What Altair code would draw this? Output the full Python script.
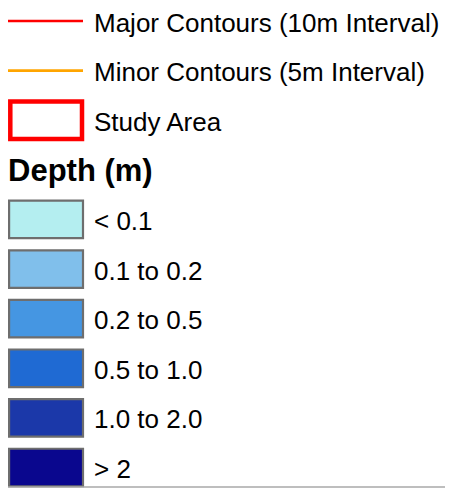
import altair as alt
import pandas as pd

# ---- legend content ----
line_labels = ["Major Contours (10m Interval)", "Minor Contours (5m Interval)"]
line_colors = ["#FF0000", "#FFA500"]
area_labels = ["Study Area"]
area_colors = ["#FF0000"]
depth_title = ["Depth (m)"]
depth_labels = ["< 0.1", "0.1 to 0.2", "0.2 to 0.5", "0.5 to 1.0", "1.0 to 2.0", "> 2"]
depth_colors = ["#B4EEF0", "#80BFEB", "#4596E2", "#1F6AD3", "#1B38A9", "#0A078E"]

n_lines = len(line_labels)
lines_df = pd.DataFrame({"row": list(range(n_lines)), "label": line_labels, "color": line_colors})
area_df = pd.DataFrame({"row": [n_lines + i for i in range(len(area_labels))],
                        "label": area_labels, "color": area_colors})
title_row = n_lines + len(area_labels)
title_df = pd.DataFrame({"row": [title_row], "label": depth_title})
depth_df = pd.DataFrame({"row": [title_row + 1 + i for i in range(len(depth_labels))],
                         "label": depth_labels, "color": depth_colors})
labels_df = pd.concat([lines_df, area_df, depth_df])[["row", "label"]]
n_rows = title_row + 1 + len(depth_labels)

FONT = "Liberation Sans"
W, H = 437, 480
yscale = alt.Scale(domain=[0, n_rows - 1], range=[13, 459.5])
y = alt.Y("row:Q", scale=yscale, axis=None)
half = 0.378

lines = alt.Chart(lines_df).mark_rule(strokeWidth=2.6).encode(
    x=alt.value(0), x2=alt.value(75), y=y,
    color=alt.Color("color:N", scale=None),
)

area = alt.Chart(area_df).transform_calculate(
    top=f"datum.row - {half}", bottom=f"datum.row + {half}"
).mark_rect(fill="white", strokeWidth=4.5).encode(
    x=alt.value(2.3), x2=alt.value(74),
    y=alt.Y("top:Q", scale=yscale, axis=None), y2="bottom:Q",
    stroke=alt.Stroke("color:N", scale=None),
)

swatches = alt.Chart(depth_df).transform_calculate(
    top=f"datum.row - {half}", bottom=f"datum.row + {half}"
).mark_rect(stroke="#6E6E6E", strokeWidth=2.2).encode(
    x=alt.value(1.1), x2=alt.value(75),
    y=alt.Y("top:Q", scale=yscale, axis=None), y2="bottom:Q",
    fill=alt.Fill("color:N", scale=None),
)

labels = alt.Chart(labels_df).mark_text(
    align="left", baseline="middle", font=FONT, fontSize=26, color="black", dy=2.5
).encode(x=alt.value(86), y=y, text="label:N")

title = alt.Chart(title_df).mark_text(
    align="left", baseline="middle", font=FONT, fontSize=31, fontWeight="bold", color="black", dy=2
).encode(x=alt.value(0), y=y, text="label:N")

border = alt.Chart(title_df).mark_rule(color="#A8A8A8", strokeWidth=1.5).encode(
    x=alt.value(0), x2=alt.value(W), y=alt.value(H - 1)
)

chart = alt.layer(lines, area, swatches, labels, title, border).properties(
    width=W, height=H, autosize=alt.AutoSizeParams(type="none"), padding=0,
    background="white",
).configure_view(stroke=None)

chart.save("out.html", embed_options={"renderer": "svg", "actions": False})
